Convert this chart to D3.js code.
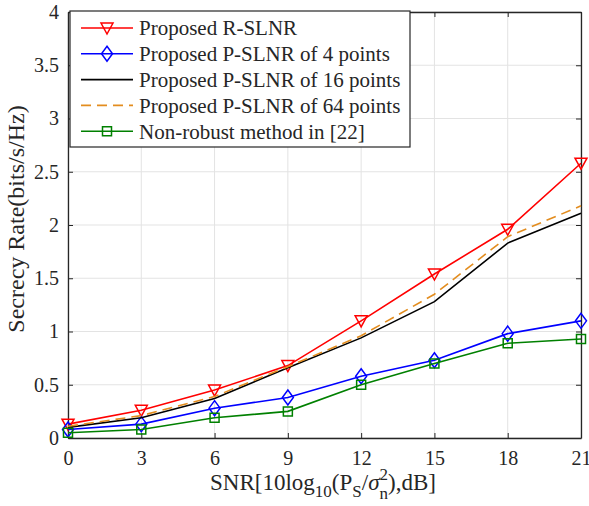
<!DOCTYPE html>
<html>
<head>
<meta charset="utf-8">
<script src="https://cdn.jsdelivr.net/npm/d3@7"></script>
<style>
  body { margin: 0; background: #fff; }
  text { font-family: "Liberation Serif", "Times New Roman", serif; fill: #262626; }
</style>
</head>
<body>
<div id="chart"></div>
<script>
var snr = [0, 3, 6, 9, 12, 15, 18, 21];
var rSlnr   = [0.13, 0.26, 0.45, 0.68, 1.10, 1.54, 1.96, 2.58];
var pSlnr4  = [0.08, 0.13, 0.28, 0.38, 0.58, 0.73, 0.98, 1.10];
var pSlnr16 = [0.10, 0.19, 0.37, 0.66, 0.94, 1.28, 1.83, 2.11];
var pSlnr64 = [0.11, 0.21, 0.39, 0.67, 0.96, 1.35, 1.89, 2.18];
var nonRobust = [0.05, 0.08, 0.19, 0.25, 0.50, 0.70, 0.89, 0.93];
var xTicks = [0, 3, 6, 9, 12, 15, 18, 21];
var yTicks = [0, 0.5, 1, 1.5, 2, 2.5, 3, 3.5, 4];

var series = [
    {name: "Proposed R-SLNR", values: rSlnr, color: "#ff0000", marker: "tri", dash: null},
    {name: "Proposed P-SLNR of 4 points", values: pSlnr4, color: "#0000ff", marker: "diamond", dash: null},
    {name: "Proposed P-SLNR of 16 points", values: pSlnr16, color: "#000000", marker: null, dash: null},
    {name: "Proposed P-SLNR of 64 points", values: pSlnr64, color: "#e38d1f", marker: null, dash: "10,6"},
    {name: "Non-robust method in [22]", values: nonRobust, color: "#008000", marker: "square", dash: null}
];

var width = 589, height = 506;
var margin = {top: 12, right: 8, bottom: 68, left: 68};
var serif = "Liberation Serif";

var svg = d3.select("#chart").append("svg")
    .attr("width", width)
    .attr("height", height);

var x = d3.scaleLinear().domain([0, 21]).range([margin.left, width - margin.right]);
var y = d3.scaleLinear().domain([0, 4]).range([height - margin.bottom, margin.top]);

// grid
var grid = svg.append("g").attr("stroke", "#e3e3e3").attr("stroke-width", 1);
grid.selectAll(".gx").data(xTicks).join("line")
    .attr("x1", d => x(d)).attr("x2", d => x(d))
    .attr("y1", y(0)).attr("y2", y(4));
grid.selectAll(".gy").data(yTicks).join("line")
    .attr("x1", x(0)).attr("x2", x(21))
    .attr("y1", d => y(d)).attr("y2", d => y(d));

// axes (ticks inward, box on)
var axisColor = "#262626";
var xAxis = svg.append("g").attr("transform", "translate(0," + y(0) + ")")
    .call(d3.axisBottom(x).tickValues(xTicks).tickSizeInner(-5).tickSizeOuter(0).tickPadding(13));
var yAxis = svg.append("g").attr("transform", "translate(" + x(0) + ",0)")
    .call(d3.axisLeft(y).tickValues(yTicks).tickFormat(d3.format("")).tickSizeInner(-5).tickSizeOuter(0).tickPadding(9));
var xTop = svg.append("g").attr("transform", "translate(0," + y(4) + ")")
    .call(d3.axisTop(x).tickValues(xTicks).tickSizeInner(-5).tickSizeOuter(0).tickFormat(""));
var yRight = svg.append("g").attr("transform", "translate(" + x(21) + ",0)")
    .call(d3.axisRight(y).tickValues(yTicks).tickSizeInner(-5).tickSizeOuter(0).tickFormat(""));

[xAxis, yAxis, xTop, yRight].forEach(function(g) {
    g.attr("font-family", serif).attr("font-size", 20);
    g.selectAll("path").attr("stroke", axisColor).attr("stroke-width", 1.3);
    g.selectAll("line").attr("stroke", axisColor).attr("stroke-width", 1);
    g.selectAll("text").attr("fill", axisColor);
});

// markers
function markerPath(type) {
    if (type === "tri") return "M-6,-5L6,-5L0,6Z";
    if (type === "diamond") return "M0,-7.5L5.5,0L0,7.5L-5.5,0Z";
    if (type === "square") return "M-4.5,-4.5L4.5,-4.5L4.5,4.5L-4.5,4.5Z";
    return null;
}

var line = d3.line()
    .x(d => x(d[0]))
    .y(d => y(d[1]));

var plot = svg.append("g");
series.forEach(function(s) {
    var pts = snr.map((v, i) => [v, s.values[i]]);
    plot.append("path")
        .datum(pts)
        .attr("d", line)
        .attr("fill", "none")
        .attr("stroke", s.color)
        .attr("stroke-width", 1.6)
        .attr("stroke-dasharray", s.dash);
    if (s.marker) {
        plot.selectAll(null).data(pts).join("path")
            .attr("d", markerPath(s.marker))
            .attr("transform", d => "translate(" + x(d[0]) + "," + y(d[1]) + ")")
            .attr("fill", "none")
            .attr("stroke", s.color)
            .attr("stroke-width", 1.5);
    }
});

// legend
var legend = svg.append("g");
legend.append("rect")
    .attr("x", 70).attr("y", 11).attr("width", 340).attr("height", 136)
    .attr("fill", "#fff").attr("stroke", axisColor).attr("stroke-width", 1.2);
var rows = legend.selectAll("g.row").data(series).join("g")
    .attr("transform", (d, i) => "translate(0," + (28 + i * 25.8) + ")");
rows.append("line")
    .attr("x1", 81).attr("x2", 133)
    .attr("stroke", d => d.color).attr("stroke-width", 1.6)
    .attr("stroke-dasharray", d => d.dash);
rows.filter(d => d.marker).append("path")
    .attr("d", d => markerPath(d.marker))
    .attr("transform", "translate(107,0)")
    .attr("fill", "none")
    .attr("stroke", d => d.color).attr("stroke-width", 1.5);
rows.append("text")
    .attr("x", 139).attr("dy", "0.35em")
    .style("font-family", serif)
    .style("font-size", "21px")
    .text(d => d.name);

// axis labels
var xl = svg.append("text")
    .attr("x", 323).attr("y", 490)
    .attr("text-anchor", "middle")
    .style("font-family", serif)
    .style("font-size", "23px");
xl.append("tspan").text("SNR[10log");
xl.append("tspan").attr("dy", 7).style("font-size", "17px").text("10");
xl.append("tspan").attr("dy", -7).text("(P");
xl.append("tspan").attr("dy", 7).style("font-size", "17px").text("S");
xl.append("tspan").attr("dy", -7).text("/");
xl.append("tspan").style("font-style", "italic").text("σ");
xl.append("tspan").attr("dy", -10).style("font-size", "17px").text("2");
xl.append("tspan").attr("dx", -8.5).attr("dy", 19).style("font-size", "17px").text("n");
xl.append("tspan").attr("dy", -9).text("),dB]");

svg.append("text")
    .attr("transform", "translate(24,219) rotate(-90)")
    .attr("text-anchor", "middle")
    .style("font-family", serif)
    .style("font-size", "24px")
    .text("Secrecy Rate(bits/s/Hz)");
</script>
</body>
</html>
